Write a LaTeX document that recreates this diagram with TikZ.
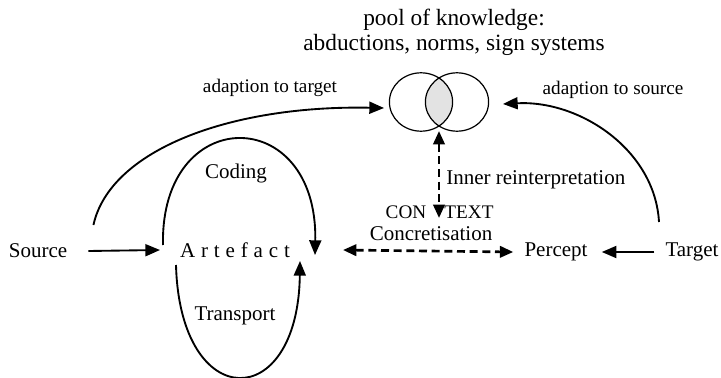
\documentclass[tikz,border=0pt]{standalone}
\usepackage{fontspec}
\setmainfont{Liberation Serif}
\usetikzlibrary{arrows.meta,calc}

\begin{document}
\begin{tikzpicture}[x=0.75pt,y=-0.75pt,
  lbl/.style={inner sep=0pt, font=\fontsize{15.75}{18}\selectfont},
  small/.style={inner sep=0pt, font=\fontsize{14.4}{17}\selectfont},
  titletext/.style={inner sep=0pt, align=center, font=\fontsize{17.5}{19}\selectfont},
  conn/.style={line width=1.4pt, -{Triangle[length=11pt,width=9pt]}},
  dconn/.style={line width=2pt, dash pattern=on 6pt off 3.5pt,
    {Triangle[length=10pt,width=8.5pt]}-{Triangle[length=10pt,width=8.5pt]}},
  lensfill/.style={fill=black!11},
  setline/.style={line width=0.9pt},
]
\useasboundingbox (0,0) rectangle (721,378);

% the pool of knowledge and its two overlapping sets
\node[titletext] (pool) at (454,32) {pool of knowledge:\\abductions, norms, sign systems};
\begin{scope}
  \clip (421,102) ellipse [x radius=23.7pt, y radius=21.9pt];
  \fill[lensfill] (457,102) ellipse [x radius=23.7pt, y radius=21.9pt];
\end{scope}
\draw[setline] (421,102) ellipse [x radius=23.7pt, y radius=21.9pt];
\draw[setline] (457,102) ellipse [x radius=23.7pt, y radius=21.9pt];
\coordinate (poolL) at (384,108);
\coordinate (poolR) at (503,104);
\coordinate (lens) at (439,131);
\coordinate (ctx) at (439,218);

% main chain
\node[lbl] (src) at (38,251) {Source};
\node[lbl] (art) at (235,250) {\addfontfeature{LetterSpace=28}Artefact};
\node[lbl] (per) at (556,252) {Percept};
\node[lbl] (tgt) at (692,252) {Target};

% labels
\node[small] (adT) at (270,88) {adaption to target};
\node[small] (adS) at (613,90) {adaption to source};
\node[lbl] (cod) at (236,173) {Coding};
\node[lbl] (tra) at (235,316) {Transport};
\node[lbl, anchor=west] (inr) at (446,180) {Inner reinterpretation};
\node[small] (con) at (406,212.5) {CON};
\node[small] (txt) at (469,212.5) {TEXT};
\node[lbl] (cnc) at (431,233.5) {Concretisation};

% connectors
\draw[conn] ($(src.east)+(21,0)$) -- ($(art.center)+(-75,0)$);
\draw[conn] ($(art.center)+(-72,-5)$) .. controls (160,103) and (318,103) .. ($(art.center)+(80,5)$);
\draw[conn] ($(art.center)+(-59,15)$) .. controls (180,414) and (298,414) .. ($(art.center)+(65,11)$);
\draw[conn] ($(src.east)+(26,-26)$) .. controls (110,150) and (230,105) .. (poolL);
\draw[conn] ($(tgt.center)+(-33,-30)$) .. controls (655,150) and (580,100) .. (poolR);
\draw[conn] ($(tgt.west)+(-11,0)$) -- ($(per.east)+(14,0)$);
\draw[dconn] ($(art.center)+(108,0)$) -- ($(per.west)+(-11,0)$);
\draw[dconn] (lens) -- (ctx);
\end{tikzpicture}
\end{document}
